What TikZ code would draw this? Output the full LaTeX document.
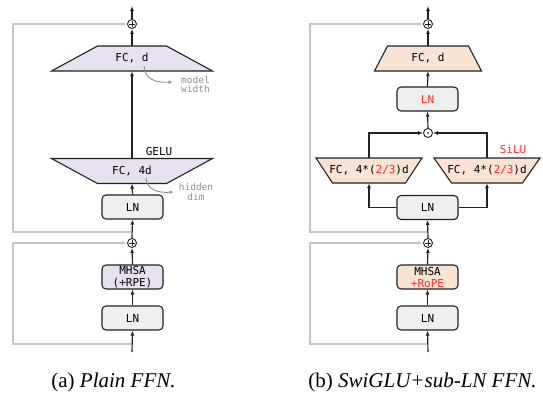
\documentclass[tikz,border=0pt]{standalone}
\usepackage{fontspec}
\setmainfont{Liberation Serif}
\setmonofont{DejaVu Sans Mono}
\usetikzlibrary{arrows.meta}
\pgfdeclarelayer{background}
\pgfsetlayers{background,main}

\definecolor{lav}{HTML}{E7E0F0}
\definecolor{peach}{HTML}{F9E3D2}
\definecolor{lngray}{HTML}{EFEFEF}
\definecolor{edge}{HTML}{222222}
\definecolor{resid}{HTML}{C6C6C6}
\definecolor{note}{HTML}{8E8E8E}
\definecolor{hl}{HTML}{FF2A2A}

\tikzset{
  mono/.style={font=\ttfamily\fontsize{11}{12}\selectfont},
  blk/.style={mono, draw=edge, line width=1.1pt, rounded corners=4pt,
    minimum width=61pt, minimum height=24pt, inner sep=0pt, align=center},
  lnbox/.style={blk, fill=lngray},
  trapnode/.style={mono, inner sep=0pt, minimum height=25pt, minimum width=20pt},
  trapedge/.style={draw=edge, line width=1.1pt, line join=miter},
  flow/.style={draw=edge, line width=1.15pt, -{Latex[length=5pt,width=4pt]}},
  res/.style={draw=resid, line width=1.4pt, -{Latex[length=5pt,width=4pt]}},
  note/.style={draw=note, line width=0.9pt, -{Latex[length=4.5pt,width=3.5pt]}},
  notetext/.style={font=\ttfamily\fontsize{9.5}{9.5}\selectfont, text=note, align=center, inner sep=0pt},
  op/.style={circle, draw=edge, line width=0.9pt, minimum size=9pt, inner sep=0pt},
  plusop/.style={op, path picture={
    \draw[edge, line width=0.8pt]
      ([xshift=-2.6pt]path picture bounding box.center) -- ([xshift=2.6pt]path picture bounding box.center)
      ([yshift=-2.6pt]path picture bounding box.center) -- ([yshift=2.6pt]path picture bounding box.center);}},
  dotop/.style={op, path picture={
    \fill[edge] (path picture bounding box.center) circle[radius=1pt];}},
  caption/.style={font=\fontsize{21}{24}\selectfont, inner sep=0pt},
}

% trapezoid body around a text node: node, top half-width, bottom half-width, half height, fill
\newcommand\trapbody[5]{%
  \draw[trapedge, fill=#5]
    ([shift={(-#2,-#4)}]#1.center) -- ([shift={(#2,-#4)}]#1.center) --
    ([shift={(#3,#4)}]#1.center) -- ([shift={(-#3,#4)}]#1.center) -- cycle;}

\begin{document}
\begin{tikzpicture}[x=1pt, y=-1pt]
\useasboundingbox (0,0) rectangle (543,394);

% ---------------- (a) plain FFN ----------------
\coordinate (topA) at (132,6);
\node[plusop] (plusA1) at (132,24) {};
\node[trapnode] (fcdA) at (132,58.5) {FC, d};
\node[trapnode] (fc4A) at (132,171) {FC, 4d};
\node[mono, inner sep=0pt] (geluA) at (159,151) {GELU};
\node[lnbox] (lnA1) at (132.5,207) {LN};
\node[plusop] (plusA0) at (132,243) {};
\node[blk, fill=lav] (mhsaA) at (132.5,277) {MHSA\\(+RPE)};
\node[lnbox] (lnA0) at (132.5,318) {LN};
\coordinate (inA) at (132,352);
\coordinate (brA1) at (132,232);
\coordinate (brA0) at (132,344);

\begin{pgfonlayer}{background}
  \trapbody{fcdA}{34.5}{80.5}{12.5}{lav}
  \trapbody{fc4A}{80.5}{34.5}{12.5}{lav}
\end{pgfonlayer}

\draw[res] (brA1) -- ++(-119,0) |- (plusA1.west);
\draw[res] (brA0) -- ++(-119,0) |- (plusA0.west);

\draw[flow] (inA) -- (lnA0.south);
\draw[flow] (lnA0.north) -- (mhsaA.south);
\draw[flow] (mhsaA.north) -- (plusA0.south);
\draw[flow] (plusA0.north) -- (lnA1.south);
\draw[flow] (lnA1.north) -- (fc4A.south);
\draw[flow] (fc4A.north) -- (fcdA.south);
\draw[flow] (fcdA.north) -- (plusA1.south);
\draw[flow] (plusA1.north) -- (topA);

% width annotations
\coordinate (wdA) at (144,66);
\coordinate (wdB) at (173,82);
\node[notetext] (modelw) at (195.5,84.5) {model\\width};
\draw[note] (wdA) .. controls (145,79) and (155,83) .. (wdB);
\coordinate (hdA) at (146,178);
\coordinate (hdB) at (174,192);
\node[notetext] (hiddend) at (196,192) {hidden\\dim};
\draw[note] (hdA) .. controls (147,190) and (158,193) .. (hdB);

\node[caption] (capA) at (113.5,382) {(a) \textit{Plain FFN.}};

% ---------------- (b) SwiGLU + sub-LN FFN ----------------
\coordinate (topB) at (428,6);
\node[plusop] (plusB1) at (428,24) {};
\node[trapnode] (fcdB) at (428,58.5) {FC, d};
\node[lnbox, text=hl] (lnBs) at (427.5,99) {LN};
\node[dotop] (gateB) at (428,133) {};
\node[trapnode] (fcL) at (369,170.5) {FC, 4*(\textcolor{hl}{2/3})d};
\node[trapnode] (fcR) at (487,170.5) {FC, 4*(\textcolor{hl}{2/3})d};
\node[mono, inner sep=0pt, text=hl] (silu) at (513,149) {SiLU};
\node[lnbox] (lnB1) at (427.5,207.5) {LN};
\node[plusop] (plusB0) at (428,243) {};
\node[blk, fill=peach] (mhsaB) at (427.5,277) {MHSA\\\textcolor{hl}{+RoPE}};
\node[lnbox] (lnB0) at (427.5,318) {LN};
\coordinate (inB) at (428,352);
\coordinate (brB1) at (428,232);
\coordinate (brB0) at (428,344);

\begin{pgfonlayer}{background}
  \trapbody{fcdB}{40.5}{53.5}{12.5}{peach}
  \trapbody{fcL}{53}{36.5}{12.5}{peach}
  \trapbody{fcR}{53}{35.5}{12.5}{peach}
\end{pgfonlayer}

\draw[res] (brB1) -- ++(-118,0) |- (plusB1.west);
\draw[res] (brB0) -- ++(-118,0) |- (plusB0.west);

\draw[flow] (inB) -- (lnB0.south);
\draw[flow] (lnB0.north) -- (mhsaB.south);
\draw[flow] (mhsaB.north) -- (plusB0.south);
\draw[flow] (plusB0.north) -- (lnB1.south);
\draw[flow] (lnB1.west) -| (fcL.south);
\draw[flow] (lnB1.east) -| (fcR.south);
\draw[flow] (fcL.north) |- (gateB.west);
\draw[flow] (fcR.north) |- (gateB.east);
\draw[flow] (gateB.north) -- (lnBs.south);
\draw[flow] (lnBs.north) -- (fcdB.south);
\draw[flow] (fcdB.north) -- (plusB1.south);
\draw[flow] (plusB1.north) -- (topB);

\node[caption] (capB) at (422.5,382) {(b) \textit{SwiGLU+sub-LN FFN.}};
\end{tikzpicture}
\end{document}
